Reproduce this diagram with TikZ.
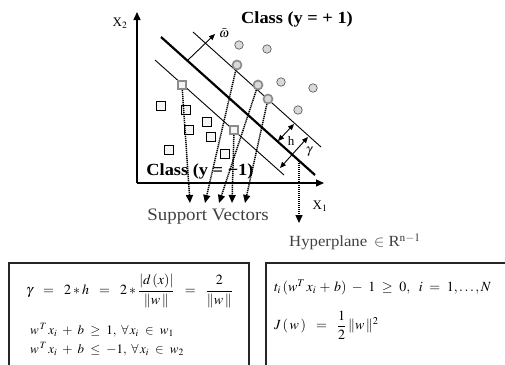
\documentclass[tikz,border=0pt]{standalone}
\usepackage{amsmath}
\usepackage{mathptmx}
\usepackage[no-math]{fontspec}
\setmainfont{Liberation Serif}
\newfontfamily\wideserif[FakeStretch=1.08]{Liberation Serif}
\usetikzlibrary{arrows.meta}
\begin{document}
\begin{tikzpicture}[x=1pt,y=-1pt,
  pdot/.style={circle, draw=black!70, fill=black!15, minimum size=8.5pt, inner sep=0pt, line width=0.6pt},
  pdotsv/.style={pdot, draw=black!45, line width=1.7pt, minimum size=9pt},
  nsq/.style={rectangle, draw=black, fill=black!4, minimum size=8.5pt, inner sep=0pt, line width=0.6pt},
  nsqsv/.style={nsq, draw=black!45, line width=1.7pt},
  sva/.style={-{Triangle[length=8pt,width=7pt]}, line width=1.5pt, dash pattern=on 1.2pt off 0.8pt},
  axisline/.style={-{Triangle[length=8pt,width=7pt]}, line width=1.3pt},
  dbl/.style={{Triangle[length=6pt,width=5pt]}-{Triangle[length=6pt,width=5pt]}, line width=0.9pt},
  lbl/.style={inner sep=0pt, font=\fontsize{13}{15}\selectfont},
  cls/.style={inner sep=0pt, font=\wideserif\fontsize{17}{19}\selectfont\bfseries},
  grey/.style={inner sep=0pt, text=black!75},
  eqbox/.style={draw=black!85, line width=1.6pt},
  eq/.style={inner sep=0pt, anchor=west}
]
\useasboundingbox (0,0) rectangle (505,364);
\clip (0,0) rectangle (505,364);

% class labels (under arrows)
\node[cls] (cp) at (297,19) {Class (y = + 1)};
\node[cls] (cn) at (200,171) {Class (y = −1)};

% axes
\coordinate (o) at (137,183);
\coordinate (ytop) at (137,12);
\coordinate (xend) at (324,183);
\draw[axisline] (o) -- (ytop);
\draw[axisline] (o) -- (xend);
\node[lbl] (x2) at (120,23) {X$_2$};
\node[lbl] (x1) at (320,206) {X$_1$};

% lines
\coordinate (ha) at (161,37);
\coordinate (hb) at (315,175);
\coordinate (ua) at (193,32);
\coordinate (ub) at (321,147);
\coordinate (la) at (155,60);
\coordinate (lb) at (284,175);
\draw[line width=2.2pt] (ha) -- (hb);
\draw[line width=0.9pt] (ua) -- (ub);
\draw[line width=0.9pt] (la) -- (lb);

% normal vector
\coordinate (w0) at (188,60);
\coordinate (w1) at (215,34);
\draw[-{Triangle[length=6pt,width=5pt]}, line width=0.9pt] (w0) -- (w1);
\node[inner sep=0pt, font=\fontsize{13}{15}\selectfont] (wl) at (224,33) {$\bar{\omega}$};

% margins
\coordinate (h0) at (278,141);
\coordinate (h1) at (294,124);
\draw[dbl] (h0) -- (h1);
\node[lbl] (hl) at (291,141) {h};
\coordinate (g0) at (280,168);
\coordinate (g1) at (308,137);
\draw[dbl] (g0) -- (g1);
\node[inner sep=0pt, font=\fontsize{13}{15}\selectfont] (gl) at (309,152) {$\gamma$};

% positive class
\node[pdot] (p1) at (239,45) {};
\node[pdot] (p2) at (267,49) {};
\node[pdot] (p3) at (281,82) {};
\node[pdot] (p4) at (313,88) {};
\node[pdot] (p5) at (298,110) {};
\node[pdotsv] (s1) at (237,65) {};
\node[pdotsv] (s2) at (258,85) {};
\node[pdotsv] (s3) at (268,99) {};

% negative class
\node[nsq] (n1) at (161,106) {};
\node[nsq] (n2) at (186,110) {};
\node[nsq] (n3) at (207,122) {};
\node[nsq] (n4) at (189,130) {};
\node[nsq] (n5) at (211,137) {};
\node[nsq] (n6) at (169,150) {};
\node[nsq] (n7) at (225,154) {};
\node[nsqsv] (q1) at (182,85) {};
\node[nsqsv] (q2) at (234,130) {};

% support vector arrows
\coordinate (t1) at (190,203);
\coordinate (t2) at (205,203);
\coordinate (t3) at (219,203);
\coordinate (t4) at (232,203);
\coordinate (t5) at (245,203);
\draw[sva] (q1) -- (t1);
\draw[sva] (s1) -- (t2);
\draw[sva] (s2) -- (t3);
\draw[sva] (q2) -- (t4);
\draw[sva] (s3) -- (t5);
\node[grey, font=\wideserif\fontsize{17.5}{19}\selectfont] (sv) at (208,217) {Support Vectors};

% hyperplane arrow
\coordinate (hp) at (299,161);
\coordinate (hpt) at (299,223);
\draw[sva] (hp) -- (hpt);
\node[grey, anchor=west, font=\wideserif\fontsize{15.5}{18}\selectfont] (hpl) at (289,242) {Hyperplane \,$\in$ R$^{\mathrm{n-1}}$};

% boxes
\draw[eqbox] (9,263) rectangle (249,390);
\draw[eqbox] (266,263) rectangle (520,390);

\node[eq, font=\fontsize{14}{16}\selectfont] (e1) at (26,291)
  {$\gamma\ \ =\ \ 2 * h\ \ =\ \ 2 * \dfrac{\left|d\,(x)\right|}{\|w\,\|}\ \ =\ \ \dfrac{2}{\|w\,\|}$};
\node[eq, font=\fontsize{13}{15}\selectfont] (e2) at (30,330)
  {$w^{\,T}\,x_{i}\ +\ b\ \geq\ 1,\ \forall\, x_{i}\ \in\ w_{1}$};
\node[eq, font=\fontsize{13}{15}\selectfont] (e3) at (30,349)
  {$w^{\,T}\,x_{i}\ +\ b\ \leq\ -1,\ \forall\, x_{i}\ \in\ w_{2}$};
\node[eq, font=\fontsize{14}{16}\selectfont] (e4) at (274,287)
  {$t_{i}\,(w^{T}\,x_{i} \,+\, b)\ -\ 1\ \geq\ 0,\ \ i\ =\ 1, \ldots, N$};
\node[eq, font=\fontsize{14}{16}\selectfont] (e5) at (274,325)
  {$J\,(\,w\,)\ \ =\ \ \dfrac{1}{2}\,\|w\,\|^{2}$};
\end{tikzpicture}
\end{document}
